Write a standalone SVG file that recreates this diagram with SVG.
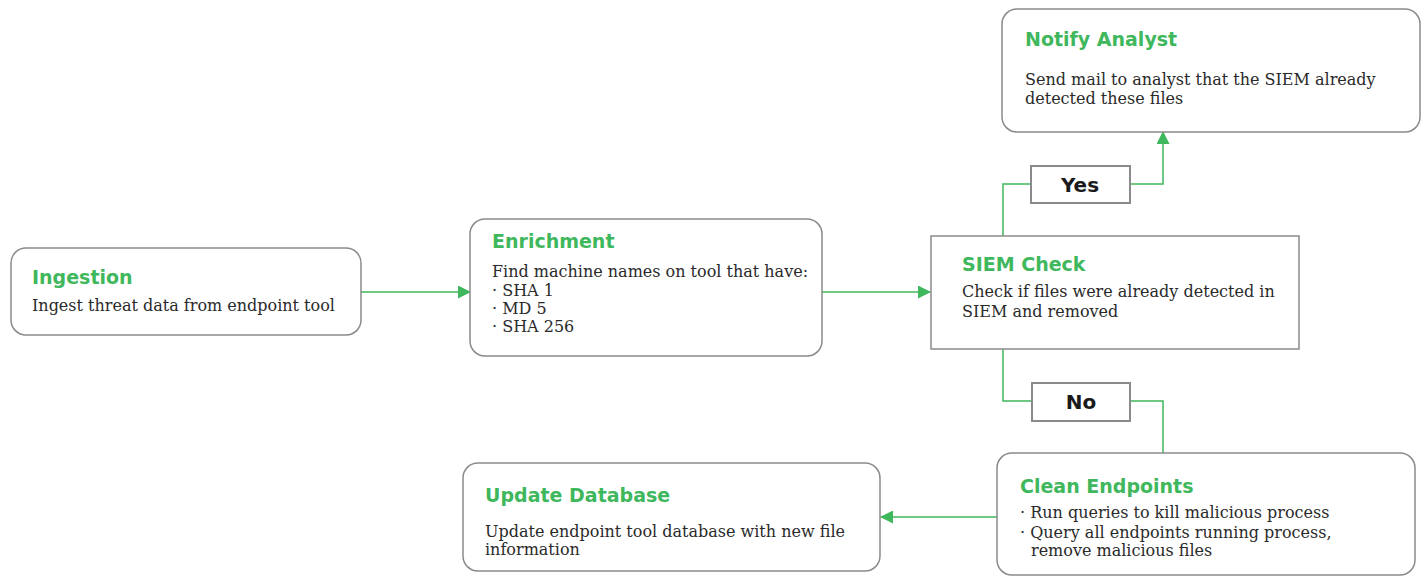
<svg xmlns="http://www.w3.org/2000/svg" width="1423" height="577" viewBox="0 0 1423 577">
<defs>
<style>
.box{fill:#fff;stroke:#8a8a8a;stroke-width:1.5}
.title{font-family:"DejaVu Sans","Open Sans",sans-serif;font-weight:700;font-size:19px;fill:#3fb75c}
.body{font-family:"DejaVu Serif","Liberation Serif",serif;font-size:16px;fill:#2a2a2a}
.lbl{font-family:"DejaVu Sans","Open Sans",sans-serif;font-weight:700;font-size:20px;fill:#1a1a1a;text-anchor:middle}
.conn{fill:none;stroke:#3fb75c;stroke-width:1.5}
</style>
<marker id="ah" markerWidth="13" markerHeight="13" refX="12" refY="6.5" orient="auto" markerUnits="userSpaceOnUse" viewBox="0 0 13 13">
<path d="M0,0 L13,6.5 L0,13 Z" fill="#3fb75c"/>
</marker>
</defs>
<rect width="1423" height="577" fill="#fff"/>
<g id="connectors">
<path class="conn" d="M361,292 H470" marker-end="url(#ah)"/>
<path class="conn" d="M822,292 H930" marker-end="url(#ah)"/>
<path class="conn" d="M1003,236 V184 H1032"/>
<path class="conn" d="M1130,184 H1163 V132" marker-end="url(#ah)"/>
<path class="conn" d="M1003,349 V401 H1032"/>
<path class="conn" d="M1130,401 H1163 V453"/>
<path class="conn" d="M997,517 H881" marker-end="url(#ah)"/>
</g>
<g id="ingestion">
<rect class="box" x="11" y="248" width="350" height="87" rx="15"/>
<text class="title" x="32" y="284">Ingestion</text>
<text class="body" x="32" y="311">Ingest threat data from endpoint tool</text>
</g>
<g id="enrichment">
<rect class="box" x="470" y="219" width="352" height="137" rx="15"/>
<text class="title" x="492" y="248">Enrichment</text>
<text class="body" x="492" y="277">Find machine names on tool that have:</text>
<text class="body" x="492" y="296">· SHA 1</text>
<text class="body" x="492" y="314">· MD 5</text>
<text class="body" x="492" y="332">· SHA 256</text>
</g>
<g id="siem">
<rect class="box" x="931" y="236" width="368" height="113"/>
<text class="title" x="962" y="271">SIEM Check</text>
<text class="body" x="962" y="297">Check if files were already detected in</text>
<text class="body" x="962" y="317">SIEM and removed</text>
</g>
<g id="yes">
<rect class="box" x="1031" y="166" width="99" height="37" style="stroke-width:2"/>
<text class="lbl" x="1080" y="192">Yes</text>
</g>
<g id="no">
<rect class="box" x="1032" y="383" width="98" height="38" style="stroke-width:2"/>
<text class="lbl" x="1081" y="409">No</text>
</g>
<g id="notify">
<rect class="box" x="1002" y="9" width="418" height="123" rx="15"/>
<text class="title" x="1025" y="46">Notify Analyst</text>
<text class="body" x="1025" y="85">Send mail to analyst that the SIEM already</text>
<text class="body" x="1025" y="104">detected these files</text>
</g>
<g id="clean">
<rect class="box" x="997" y="453" width="418" height="122" rx="15"/>
<text class="title" x="1020" y="493">Clean Endpoints</text>
<text class="body" x="1020" y="518">· Run queries to kill malicious process</text>
<text class="body" x="1020" y="538">· Query all endpoints running process,</text>
<text class="body" x="1031" y="556">remove malicious files</text>
</g>
<g id="update">
<rect class="box" x="463" y="463" width="417" height="108" rx="15"/>
<text class="title" x="485" y="502">Update Database</text>
<text class="body" x="485" y="537">Update endpoint tool database with new file</text>
<text class="body" x="485" y="555">information</text>
</g>
</svg>
